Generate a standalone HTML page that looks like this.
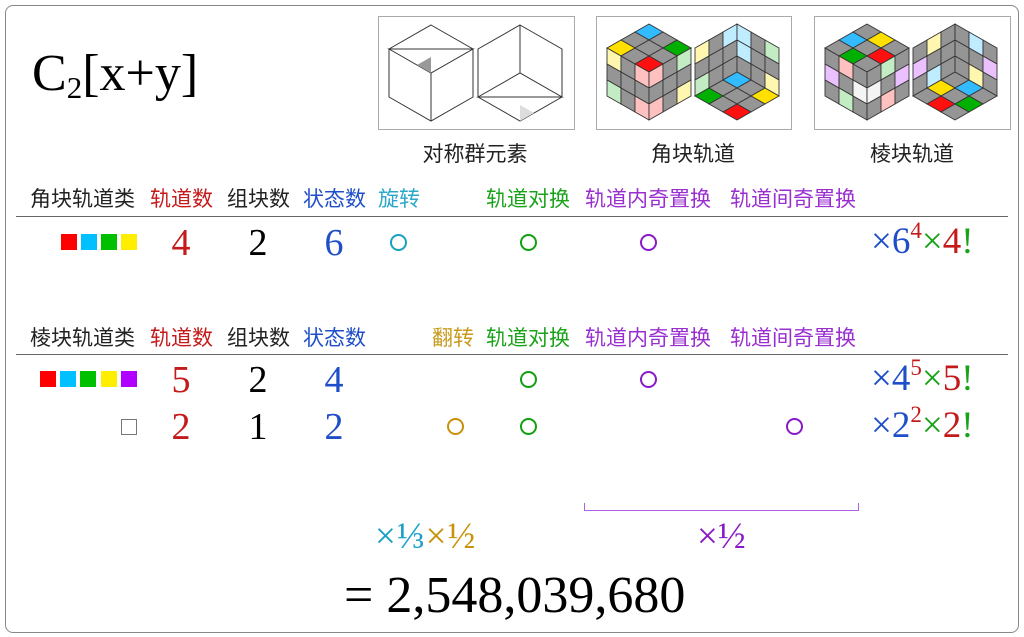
<!DOCTYPE html>
<html><head><meta charset="utf-8"><style>
body{margin:0;width:1024px;height:637px;background:#fff;position:relative;overflow:hidden;font-family:"Liberation Sans","Noto Sans CJK SC",sans-serif}
.a{position:absolute;white-space:nowrap}
.h{font-size:21px;top:188px;line-height:24px}
.h2{top:327px}
.s{font-family:"Liberation Serif","Noto Serif CJK SC",serif}
.n{font-family:"Liberation Serif",serif;font-size:38px;line-height:38px;transform:translateX(-50%)}
.c{position:absolute;width:13px;height:13px;border:2.6px solid;border-radius:50%}
.sq{position:absolute;width:16px;height:16px}
.hr{position:absolute;left:16px;width:992px;height:0;border-top:1.5px solid #666}
.r{font-family:"Liberation Serif",serif;font-size:37px;line-height:38px}
.r sup{font-size:23px;vertical-align:15px;line-height:0}
.lab{font-size:21px;top:138px;color:#222;transform:translateX(-50%)}
</style></head><body>
<div style="position:absolute;left:5px;top:5px;width:1012px;height:626px;border:1px solid #888;border-radius:8px"></div>
<div class="a s" style="left:32px;top:45px;font-size:52px;line-height:58px;color:#000">C<sub style="font-size:31px;vertical-align:-8px;line-height:0">2</sub>[x+y]</div>

<svg id="sv" width="1024" height="140" style="position:absolute;left:0;top:0">
<rect x="378.5" y="16.5" width="196" height="113" fill="#fff" stroke="#aaa"/>
<rect x="596.5" y="16.5" width="195" height="113" fill="#fff" stroke="#aaa"/>
<rect x="814.5" y="16.5" width="196" height="113" fill="#fff" stroke="#aaa"/>
</svg>
<div class="a lab" style="left:475px">对称群元素</div>
<div class="a lab" style="left:693px">角块轨道</div>
<div class="a lab" style="left:912px">棱块轨道</div>

<div class="a h" style="left:30px;color:#222">角块轨道类</div>
<div class="a h" style="left:150px;color:#c41a1a">轨道数</div>
<div class="a h" style="left:227px;color:#222">组块数</div>
<div class="a h" style="left:303px;color:#1f4fc8">状态数</div>
<div class="a h" style="left:378px;color:#2aa7c9">旋转</div>
<div class="a h" style="left:486px;color:#1aa31a">轨道对换</div>
<div class="a h" style="left:585px;color:#9a2fd0">轨道内奇置换</div>
<div class="a h" style="left:730px;color:#9a2fd0">轨道间奇置换</div>
<div class="hr" style="top:216px"></div>

<div class="a h h2" style="left:30px;color:#222">棱块轨道类</div>
<div class="a h h2" style="left:150px;color:#c41a1a">轨道数</div>
<div class="a h h2" style="left:227px;color:#222">组块数</div>
<div class="a h h2" style="left:303px;color:#1f4fc8">状态数</div>
<div class="a h h2" style="left:432px;color:#c89a1a">翻转</div>
<div class="a h h2" style="left:486px;color:#1aa31a">轨道对换</div>
<div class="a h h2" style="left:585px;color:#9a2fd0">轨道内奇置换</div>
<div class="a h h2" style="left:730px;color:#9a2fd0">轨道间奇置换</div>
<div class="hr" style="top:354px"></div>

<!-- row1 -->
<div class="sq" style="left:61px;top:234px;background:#f00"></div>
<div class="sq" style="left:81px;top:234px;background:#00c0ff"></div>
<div class="sq" style="left:101px;top:234px;background:#00c000"></div>
<div class="sq" style="left:121px;top:234px;background:#ffee00"></div>
<div class="a n" style="left:181px;top:224px;color:#c41a1a">4</div>
<div class="a n" style="left:258px;top:224px;color:#000">2</div>
<div class="a n" style="left:334px;top:224px;color:#1f4fc8">6</div>
<div class="c" style="left:390px;top:234px;border-color:#1aa0c0"></div>
<div class="c" style="left:520px;top:234px;border-color:#10a010"></div>
<div class="c" style="left:640px;top:234px;border-color:#8a1ac8"></div>
<div class="a r" style="left:871px;top:223px"><span style="color:#1f4fc8">×6</span><sup style="color:#c41a1a">4</sup><span style="color:#1aa31a">×</span><span style="color:#c41a1a">4</span><span style="color:#1aa31a">!</span></div>

<!-- row2 -->
<div class="sq" style="left:40px;top:371px;background:#f00"></div>
<div class="sq" style="left:60px;top:371px;background:#00c0ff"></div>
<div class="sq" style="left:80px;top:371px;background:#00c000"></div>
<div class="sq" style="left:101px;top:371px;background:#ffee00"></div>
<div class="sq" style="left:121px;top:371px;background:#b000ff"></div>
<div class="a n" style="left:181px;top:361px;color:#c41a1a">5</div>
<div class="a n" style="left:258px;top:361px;color:#000">2</div>
<div class="a n" style="left:334px;top:361px;color:#1f4fc8">4</div>
<div class="c" style="left:520px;top:371px;border-color:#10a010"></div>
<div class="c" style="left:640px;top:371px;border-color:#8a1ac8"></div>
<div class="a r" style="left:871px;top:360px"><span style="color:#1f4fc8">×4</span><sup style="color:#c41a1a">5</sup><span style="color:#1aa31a">×</span><span style="color:#c41a1a">5</span><span style="color:#1aa31a">!</span></div>

<!-- row3 -->
<div class="sq" style="left:121px;top:419px;width:14px;height:14px;border:1px solid #777"></div>
<div class="a n" style="left:181px;top:408px;color:#c41a1a">2</div>
<div class="a n" style="left:258px;top:408px;color:#000">1</div>
<div class="a n" style="left:334px;top:408px;color:#1f4fc8">2</div>
<div class="c" style="left:447px;top:418px;border-color:#c8920a"></div>
<div class="c" style="left:520px;top:418px;border-color:#10a010"></div>
<div class="c" style="left:786px;top:418px;border-color:#8a1ac8"></div>
<div class="a r" style="left:871px;top:407px"><span style="color:#1f4fc8">×2</span><sup style="color:#c41a1a">2</sup><span style="color:#1aa31a">×</span><span style="color:#c41a1a">2</span><span style="color:#1aa31a">!</span></div>

<!-- bracket -->
<div style="position:absolute;left:584px;top:503px;width:273px;height:7px;border:1px solid #b060e0;border-top:none"></div>
<div class="a s" style="left:375px;top:517px;font-size:37px;line-height:40px;letter-spacing:1px"><span style="color:#1aa0c8">×⅓</span><span style="color:#c8920a">×½</span></div>
<div class="a s" style="left:697px;top:517px;font-size:37px;line-height:40px;color:#8a1ac8">×½</div>
<div class="a s" style="left:344px;top:566px;font-size:52px;line-height:60px;color:#000">= 2,548,039,680</div>

<script>
var sv=document.getElementById('sv'),NS='http://www.w3.org/2000/svg';
function P(pts,fill,stroke,sw){var p=document.createElementNS(NS,'polygon');p.setAttribute('points',pts.map(function(q){return q[0]+','+q[1]}).join(' '));p.setAttribute('fill',fill);p.setAttribute('stroke',stroke);p.setAttribute('stroke-width',sw||1);sv.appendChild(p);}
function face(o,u,v,colors){for(var i=0;i<3;i++)for(var j=0;j<3;j++){var a=[o[0]+u[0]*i+v[0]*j,o[1]+u[1]*i+v[1]*j];var c=(colors&&colors[i+','+j])||'#959595';P([a,[a[0]+u[0],a[1]+u[1]],[a[0]+u[0]+v[0],a[1]+u[1]+v[1]],[a[0]+v[0],a[1]+v[1]]],c,'#333',0.9);}}
function convex(cx,t,ct,cl,cr){face([cx,t],[14,8],[-14,8],ct);face([cx-42,t+24],[14,8],[0,16],cl);face([cx,t+48],[14,-8],[0,16],cr);}
function concave(cx,t,cl,cr,cf){face([cx-42,t+24],[14,-8],[0,16],cl);face([cx,t],[14,8],[0,16],cr);face([cx,t+48],[14,8],[-14,8],cf);}
(function(){var cx=431,t=25;P([[cx,t],[cx+42,t+24],[cx+42,t+72],[cx,t+96],[cx-42,t+72],[cx-42,t+24]],'#fff','#333',1);
P([[cx-42,t+24],[cx,t+48],[cx+42,t+24]],'none','#333',1);P([[cx,t+48],[cx,t+96]],'none','#333',1);
P([[cx,t+48],[cx-14,t+40],[cx,t+32]],'#999','none');
cx=520;P([[cx,t],[cx+42,t+24],[cx+42,t+72],[cx,t+96],[cx-42,t+72],[cx-42,t+24]],'#fff','#333',1);
P([[cx,t],[cx,t+48]],'none','#333',1);P([[cx-42,t+72],[cx,t+48],[cx+42,t+72]],'none','#333',1);
P([[cx,t+96],[cx,t+80],[cx+14,t+88]],'#ddd','none');})();
var Y='#fff6b0',B='#c0ecff',G='#c4ecc4',R='#ffc0c0',V='#eac0ff',W='#f4f4f4';
convex(649,24,{'0,0':'#33bbff','2,0':'#00b000','0,2':'#ffe000','2,2':'#ff1010'},{'0,0':Y,'0,2':G,'2,0':R,'2,2':R},{'0,0':R,'0,2':R,'2,0':G,'2,2':Y});
concave(737,24,{'0,0':Y,'0,2':G,'2,0':B},{'0,0':B,'0,1':B,'2,0':G,'2,2':Y},{'0,0':'#33bbff','2,0':'#ffe000','0,2':'#00b000','2,2':'#ff1010'});
convex(867,24,{'1,0':'#ffe000','0,1':'#33bbff','2,1':'#ff1010','1,2':'#00b000'},{'0,1':V,'1,0':R,'1,2':G,'2,1':W},{'0,1':W,'1,0':G,'1,2':R,'2,1':V});
concave(955,24,{'1,0':Y,'0,1':V,'1,2':B},{'1,0':B,'2,1':V,'1,2':Y},{'1,0':'#33bbff','0,1':'#ffe000','2,1':'#00b000','1,2':'#ff1010'});
</script>
</body></html>
